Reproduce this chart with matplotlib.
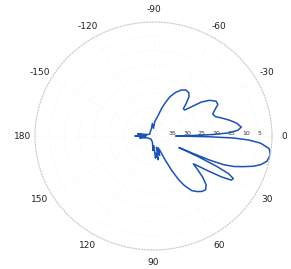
import numpy as np
import matplotlib
matplotlib.use("Agg")
import matplotlib.pyplot as plt

# pattern: angle (deg, clockwise from 0) and level (dB, centre = 40)
angle_deg = [-180, -176, -172, -165, -150, -135, -120, -105, -95, -90, -85, -80, -77, -74,
             -71, -68, -64, -60, -56, -52, -49, -46, -43.5, -41, -39, -36.5, -33.5, -30,
             -27, -24, -21, -18, -15, -12, -9, -6, -4, -2.5, -1.5, -0.8, 0, 0.8, 1.5, 2.5,
             4, 6.5, 9.5, 13, 15.5, 17.5, 19.5, 21.5, 23, 24, 24.7, 25.2, 25.7, 26.5, 27.5,
             29, 30.5, 32, 33.5, 35, 36, 38, 41, 44, 47, 50, 53, 56, 59, 61, 63, 65, 67,
             70, 73, 76, 79, 82, 85, 88, 92, 98, 110, 130, 150, 165, 172, 176, 180]
level_db = [33.9, 37.6, 34.6, 38.0, 38.6, 38.3, 38.0, 37.3, 35.6, 37.3, 34.9, 33.6, 32.2, 29.8,
            27.5, 25.1, 23.0, 21.4, 20.5, 20.7, 21.7, 24.1, 26.1, 26.1, 24.1, 20.0, 17.3, 15.6,
            15.6, 17.3, 18.6, 18.0, 15.9, 13.6, 11.5, 10.2, 11.5, 14.6, 19.7, 26.4, 32.5, 21.4, 12.9, 7.8,
            3.7, 0.7, 0.0, 0.7, 2.4, 4.7, 7.8, 10.8, 14.2, 19.0, 25.8, 30.5, 23.0, 16.3, 11.5,
            9.2, 9.5, 12.9, 17.6, 21.7, 23.4, 21.4, 18.0, 15.3, 14.2, 14.6, 15.6, 16.9, 19.7, 22.4, 26.4, 30.8, 34.6,
            35.6, 32.9, 35.9, 31.5, 33.9, 32.2, 36.6, 34.9, 37.6, 38.3, 38.6, 38.3, 37.6, 35.3, 37.3, 33.9]

theta_ticks = [0, 30, 60, 90, 120, 150, 180, 210, 240, 270, 300, 330]
theta_labels = ["0", "30", "60", "90", "120", "150", "180", "-150", "-120", "-90", "-60", "-30"]
r_ticks = [5, 10, 15, 20, 25, 30, 35]

fig = plt.figure(figsize=(2.91, 2.69), dpi=100)
ax = fig.add_axes([0.1203, 0.0706, 0.8144, 0.8476], projection="polar")
ax.set_aspect("auto")  # the scanned original is slightly stretched sideways

ax.set_theta_zero_location("E")
ax.set_theta_direction(-1)
ax.set_rlim(40, 0)

ax.plot(np.deg2rad(angle_deg), level_db, color="#1d52b2", linewidth=1.1)

ax.set_xticks(np.deg2rad(theta_ticks))
ax.set_xticklabels(theta_labels, fontsize=6.5, color="#222222")
ax.tick_params(axis="x", length=0, pad=2)
ax.set_yticks(r_ticks)
ax.set_yticklabels([str(v) for v in r_ticks], fontsize=4.5, color="#333333")
ax.set_rlabel_position(0)
for lbl in ax.get_yticklabels():
    lbl.set_horizontalalignment("left")

ax.grid(True, color="#f3f3f3", linestyle=":", linewidth=0.5)
ax.spines["polar"].set_color("#c8c8c8")
ax.spines["polar"].set_linestyle(":")
ax.spines["polar"].set_linewidth(0.8)

fig.savefig("out.png", dpi=100)
